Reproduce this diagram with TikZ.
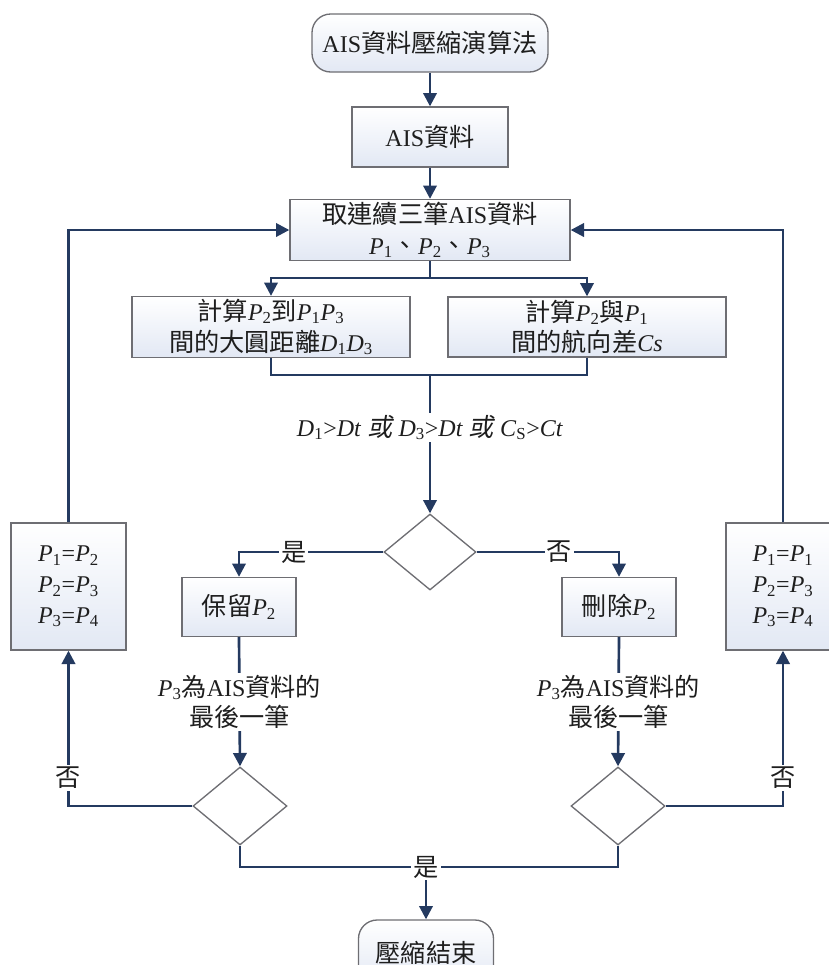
\documentclass[tikz,border=0pt]{standalone}
\usepackage{fontspec}
\setmainfont{Liberation Serif}
\newfontfamily\cjk[Scale=1.05]{Noto Sans CJK TC}
\newfontfamily\cjksl[Scale=1.05,FakeSlant=0.2]{Noto Sans CJK TC}
\usetikzlibrary{shapes.geometric,arrows.meta}
\definecolor{navy}{RGB}{36,58,96}
\definecolor{edgegray}{RGB}{110,110,115}
\definecolor{boxbot}{RGB}{226,232,244}
\definecolor{txt}{RGB}{30,30,30}
\newcommand\zh[1]{{\cjk #1}}
\newcommand\Pv[1]{\textit{P}\textsubscript{#1}}
\newcommand\Dv[1]{\textit{D}\textsubscript{#1}}
\begin{document}
\begin{tikzpicture}[x=0.75pt,y=-0.75pt,
  font=\fontsize{18}{23}\selectfont, text=txt,
  sz/.style 2 args={minimum width=#1*0.75pt, minimum height=#2*0.75pt},
  procbox/.style={draw=edgegray, line width=1pt, top color=white, bottom color=boxbot, inner sep=2pt, align=center},
  term/.style={procbox, rounded corners=14pt},
  decide/.style={diamond, draw=edgegray, line width=1pt, fill=white, inner sep=0pt},
  flow/.style={draw=navy, line width=2pt, -{Triangle[length=10pt,width=10pt]}},
  link/.style={draw=navy, line width=2pt},
  lab/.style={fill=white, inner sep=1.5pt, align=center}]
\useasboundingbox (0,0) rectangle (829,965);

% nodes
\node[term, sz={236}{58}] (start) at (430,43) {AIS\zh{資料壓縮演算法}};
\node[procbox, sz={156}{60}] (ais) at (430,137) {AIS\zh{資料}};
\node[procbox, sz={280}{60}] (take) at (430,230) {\zh{取連續三筆}AIS\zh{資料}\\\Pv1\zh{、}\Pv2\zh{、}\Pv3};
\node[procbox, sz={278}{60}] (calc1) at (271,327) {\zh{計算}\Pv2\zh{到}\Pv1\Pv3\\\zh{間的大圓距離}\Dv1\Dv3};
\node[procbox, sz={278}{60}] (calc2) at (587,327) {\zh{計算}\Pv2\zh{與}\Pv1\\\zh{間的航向差}\textit{Cs}};
\node[decide, sz={92}{76}] (dia) at (430,552) {};
\node[procbox, sz={114}{59}] (keep) at (239,607) {\zh{保留}\Pv2};
\node[procbox, sz={114}{59}] (del) at (619,607) {\zh{刪除}\Pv2};
\node[decide, sz={94}{78}] (d2) at (240,806) {};
\node[decide, sz={94}{78}] (d3) at (618,806) {};
\node[procbox, sz={115}{127}] (lbox) at (68.5,586.5) {\Pv1=\Pv2\\\Pv2=\Pv3\\\Pv3=\Pv4};
\node[procbox, sz={114}{127}] (rbox) at (783,586.5) {\Pv1=\Pv1\\\Pv2=\Pv3\\\Pv3=\Pv4};
\node[term, sz={135}{66}] (end) at (426,953) {\zh{壓縮結束}};

% coordinates
\coordinate (split) at (430,278);
\coordinate (merge) at (430,375);
\coordinate (join) at (426,867);

% connectors
\draw[flow] (start) -- (ais);
\draw[flow] (ais) -- (take);
\draw[link] (take.south) -- (split);
\draw[flow] (split) -| (calc1.north);
\draw[flow] (split) -| (calc2.north);
\draw[link] (calc1.south) |- (merge);
\draw[link] (calc2.south) |- (merge);
\draw[flow] (merge) -- node[lab, pos=0.38]{\Dv1{\textgreater}\textit{Dt} {\cjksl 或} \Dv3{\textgreater}\textit{Dt} {\cjksl 或} \textit{C}\textsubscript{S}{\textgreater}\textit{Ct}} (dia.north);
\draw[flow] (dia.west) -| node[lab, pos=0.31]{\zh{是}} (keep.north);
\draw[flow] (dia.east) -| node[lab, pos=0.29]{\zh{否}} (del.north);
\draw[flow] (keep.south) -- node[lab]{\Pv3\zh{為}AIS\zh{資料的}\\\zh{最後一筆}} (d2.north);
\draw[flow] (del.south) -- node[lab]{\Pv3\zh{為}AIS\zh{資料的}\\\zh{最後一筆}} (d3.north);
\draw[flow] (d2.west) -| node[lab, pos=0.59]{\zh{否}} (lbox.south);
\draw[flow] (d3.east) -| node[lab, pos=0.59]{\zh{否}} (rbox.south);
\draw[flow] (lbox.north) |- (take.west);
\draw[flow] (rbox.north) |- (take.east);
\draw[link] (d2.south) |- (join);
\draw[link] (d3.south) |- (join);
\draw[flow] (join) -- (end.north);
\node[lab] (yes) at (join) {\zh{是}};
\end{tikzpicture}
\end{document}
